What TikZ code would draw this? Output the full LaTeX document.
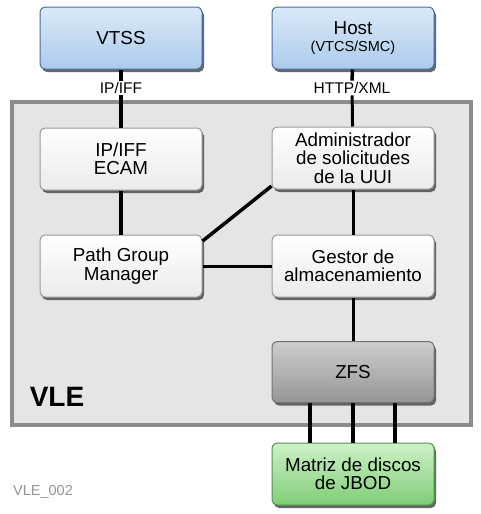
\documentclass[tikz,border=0pt]{standalone}
\usepackage{fontspec}
\setmainfont{Liberation Sans}
\usetikzlibrary{shadows}
\definecolor{vleback}{RGB}{229,229,229}
\definecolor{vleedge}{RGB}{140,140,140}
\definecolor{bluetop}{RGB}{218,233,248}
\definecolor{bluebot}{RGB}{172,203,236}
\definecolor{blueedge}{RGB}{72,108,165}
\definecolor{graytop}{RGB}{205,205,205}
\definecolor{graybot}{RGB}{150,150,150}
\definecolor{greentop}{RGB}{205,242,198}
\definecolor{greenbot}{RGB}{128,204,118}
\definecolor{greenedge}{RGB}{78,148,78}
\begin{document}
\begin{tikzpicture}[x=1pt,y=-1pt,
  box/.style={rectangle, rounded corners=5pt, minimum width=162pt, minimum height=62pt,
    align=center, font=\fontsize{18.8}{18.4}\selectfont, line width=1pt,
    drop shadow={shadow xshift=2pt, shadow yshift=-3pt, fill=black!70, opacity=.85}},
  bluebox/.style={box, draw=blueedge, top color=bluetop, bottom color=bluebot},
  whitebox/.style={box, draw=black!40, top color=white, bottom color=black!8},
  graybox/.style={box, draw=black!55, top color=graytop, bottom color=graybot},
  greenbox/.style={box, draw=greenedge, top color=greentop, bottom color=greenbot},
  link/.style={draw=black, line width=3.5pt},
  protocol/.style={fill=white, inner sep=1.5pt, font=\fontsize{15.5}{15.5}\selectfont}]
\useasboundingbox (0,0) rectangle (481,514);
% VLE frame
\draw [fill=vleback, draw=vleedge, line width=4pt] (12,102) rectangle (471,425);
\node [font=\fontsize{28}{28}\bfseries] (vlelbl) at (57,397) {VLE};
\node [text=black!42, font=\fontsize{14.5}{14.5}\selectfont] (figid) at (43,492) {VLE\_002};
% outside
\node [bluebox] (vtss) at (121,38) {VTSS};
\node [bluebox] (host) at (353,38) {Host\\[-1pt]{\fontsize{14.5}{14.5}\selectfont (VTCS/SMC)}};
\node [protocol] (iplbl) at (121,88) {IP/IFF};
\node [protocol] (httplbl) at (352,88) {HTTP/XML};
% inside VLE
\node [whitebox] (ecam) at (121,159) {IP/IFF\\ECAM};
\node [whitebox] (adm) at (353,158) {Administrador\\de solicitudes\\de la UUI};
\node [whitebox] (pgm) at (121,266) {Path Group\\Manager};
\node [whitebox] (gest) at (353,266) {Gestor de\\almacenamiento};
\node [graybox, minimum height=61pt] (zfs) at (353,372) {ZFS};
\node [greenbox] (jbod) at (353,474) {Matriz de discos\\de JBOD};
% links
\draw [link] (vtss) -- (iplbl);
\draw [link] (iplbl) -- (ecam);
\draw [link] (host) -- (httplbl);
\draw [link, line width=3pt] (httplbl) -- (adm);
\draw [link] (ecam) -- (pgm);
\draw [link] (adm.199) -- (pgm.17);
\draw [link, line width=3pt] (pgm) -- (gest);
\draw [link, line width=3pt] (adm) -- (gest);
\draw [link, line width=3pt] (gest) -- (zfs);
\foreach \dx in {-43,0,42} {
  \draw [link] ([xshift=\dx pt]zfs.south) -- ([xshift=\dx pt]jbod.north);
}
\end{tikzpicture}
\end{document}
